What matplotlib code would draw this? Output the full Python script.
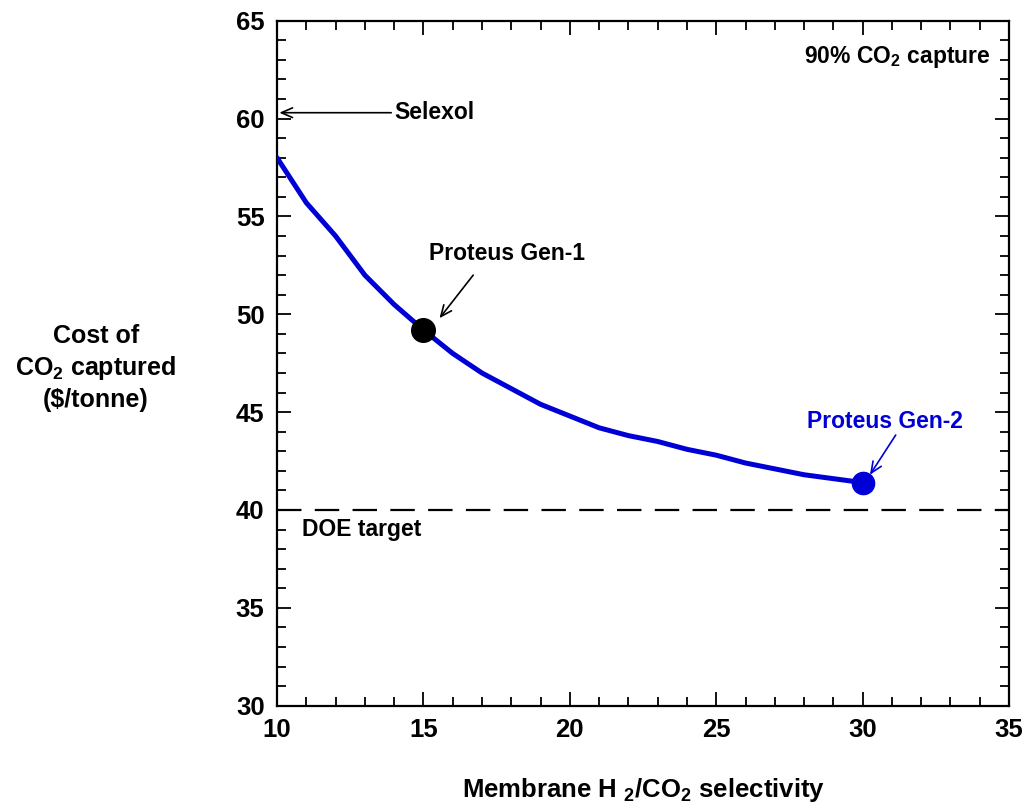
#!/usr/bin/env python3
# Cost of CO2 captured vs membrane selectivity
import numpy as np
import matplotlib; matplotlib.use("Agg")
import matplotlib.pyplot as plt
from matplotlib.ticker import MultipleLocator

plt.rcParams["font.family"] = ["Liberation Sans", "DejaVu Sans"]
plt.rcParams["font.weight"] = "bold"
plt.rcParams["mathtext.fontset"] = "custom"
plt.rcParams["mathtext.bf"] = "Liberation Sans:bold"
plt.rcParams["mathtext.rm"] = "Liberation Sans:bold"
plt.rcParams["mathtext.default"] = "bf"

# ---- data ----
selectivity = [10, 11, 12, 13, 14, 15, 16, 17, 18, 19, 20,
               21, 22, 23, 24, 25, 26, 27, 28, 29, 30]
cost = [58.0, 55.7, 54.0, 52.0, 50.5, 49.2, 48.0, 47.0, 46.2, 45.4, 44.8,
        44.2, 43.8, 43.5, 43.1, 42.8, 42.4, 42.1, 41.8, 41.6, 41.4]
gen1 = (15, 49.2)
gen2 = (30, 41.4)
doe_target = 40
BLUE = "#0000d6"

fig = plt.figure(figsize=(10.29, 8.10), dpi=100)
ax = fig.add_axes([0.2692, 0.1288, 0.7114, 0.8456])

ax.plot(selectivity, cost, color=BLUE, lw=3.6, solid_capstyle="round", zorder=3)
ax.plot(*gen1, "o", color="black", ms=17, zorder=4)
ax.plot(*gen2, "o", color=BLUE, ms=16, zorder=4)
ax.axhline(doe_target, color="black", lw=1.6, dashes=(11, 6), zorder=2)

ax.set_xlim(10, 35); ax.set_ylim(30, 65)
ax.xaxis.set_major_locator(MultipleLocator(5)); ax.xaxis.set_minor_locator(MultipleLocator(1))
ax.yaxis.set_major_locator(MultipleLocator(5)); ax.yaxis.set_minor_locator(MultipleLocator(1))
ax.tick_params(which="both", direction="in", top=True, right=True, width=1.3, colors="black")
ax.tick_params(which="major", length=10, labelsize=18.5, pad=9)
ax.tick_params(which="minor", length=6.5)
for s in ax.spines.values():
    s.set_linewidth(1.6)
for lab in ax.get_xticklabels() + ax.get_yticklabels():
    lab.set_fontweight("bold")

# annotations
fs = 16.5
arrow = dict(arrowstyle="->,head_length=0.8,head_width=0.35", lw=1.2,
             shrinkA=0, shrinkB=0)
ax.annotate("", xy=(10.08, 60.3), xytext=(13.9, 60.3),
            arrowprops=dict(arrow, color="black"))
ax.text(14.0, 60.3, "Selexol", fontsize=fs, ha="left", va="center")

ax.text(17.85, 53.1, "Proteus Gen-1", fontsize=fs, ha="center", va="center")
ax.annotate("", xy=(15.55, 49.8), xytext=(16.7, 52.0),
            arrowprops=dict(arrow, color="black"))

ax.text(30.75, 44.5, "Proteus Gen-2", fontsize=fs, ha="center", va="center", color=BLUE)
ax.annotate("", xy=(30.25, 41.8), xytext=(31.13, 43.83),
            arrowprops=dict(arrow, color=BLUE))

ax.text(0.847, 0.947, "90% CO$_2$ capture", transform=ax.transAxes,
        fontsize=fs, ha="center", va="center")
ax.text(10.85, 39.0, "DOE target", fontsize=fs, ha="left", va="center")

ax.set_xlabel("Membrane H $_2$/CO$_2$ selectivity", fontsize=18.5,
              fontweight="bold", labelpad=24)
fig.text(0.093, 0.546, "Cost of\nCO$_2$ captured\n(\\$/tonne)", fontsize=18,
         ha="center", va="center", linespacing=1.3)

fig.savefig("out.png", dpi=100, facecolor="white")
plt.close(fig)
